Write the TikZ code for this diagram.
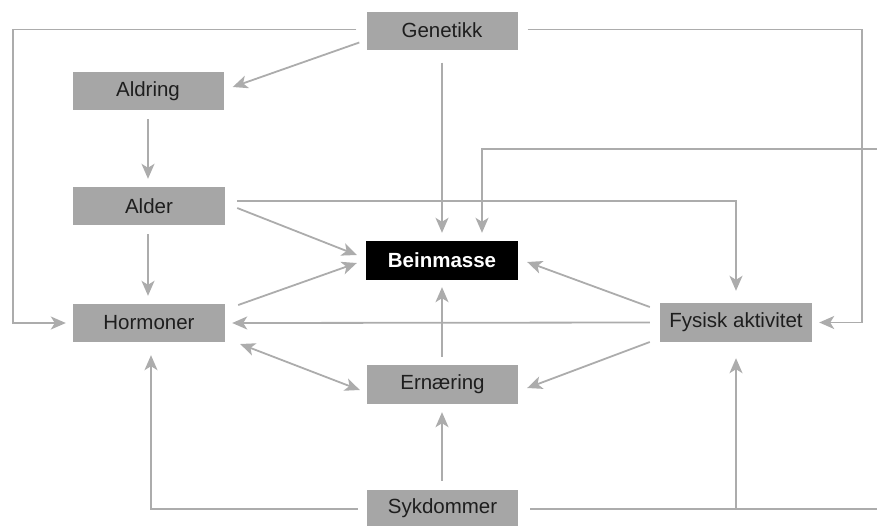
\documentclass[tikz,border=0pt]{standalone}
\usepackage{fontspec}
\setmainfont{Liberation Sans}
\usetikzlibrary{arrows.meta,calc}
\definecolor{boxgray}{RGB}{166,166,166}
\definecolor{linegray}{RGB}{172,172,172}
\definecolor{txt}{RGB}{30,30,30}
\begin{document}
\begin{tikzpicture}[x=1pt,y=-1pt,
  box/.style={fill=boxgray,text=txt,minimum width=151pt,minimum height=38pt,inner sep=0pt,
    font=\fontsize{20.5}{24}\selectfont},
  blackbox/.style={fill=black,text=white,minimum width=152pt,minimum height=39pt,inner sep=0pt,
    font=\fontsize{20.5}{24}\selectfont\bfseries},
  conn/.style={draw=linegray,line width=1.8pt,-{Stealth[length=15pt,width=13pt,inset=4pt]}},
  plain/.style={draw=linegray,line width=1.8pt}]
\useasboundingbox (0,0) rectangle (877,525);
\node[box] (gen) at (442,30.5) {Genetikk};
\node[box] (ald) at (148,91) {Aldring};
\node[box,minimum width=152pt] (alder) at (149,206) {Alder};
\node[box,minimum width=152pt] (horm) at (149,323) {Hormoner};
\node[blackbox] (bein) at (442,260.5) {Beinmasse};
\node[box,minimum height=39pt] (ern) at (442.5,384.5) {Ernæring};
\node[box,minimum height=37pt] (syk) at (442.5,508.5) {Sykdommer};
\node[box,minimum width=152pt,minimum height=39pt] (fys) at (736,322.5) {Fysisk aktivitet};
\coordinate (tr) at (877,149);
\coordinate (br) at (877,509);
\coordinate (j) at (fys.south |- br);
% Genetikk
\draw[conn] ($(gen.west)+(-7,12)$) -- ($(ald.east)+(9,-4)$);
\draw[conn] ($(gen.west)+(-10,-1)$) -| ($(horm.west)+(-60,0)$) -- ($(horm.west)+(-7,0)$);
\draw[conn] ($(gen.east)+(10,-1)$) -| ($(fys.east)+(50,0)$) -- ($(fys.east)+(7,0)$);
\draw[conn] ($(gen.south)+(0,13)$) -- ($(bein.north)+(0,-8)$);
\draw[conn] (tr) -| ($(bein.north)+(40,-8)$);
% Aldring / Alder
\draw[conn] ($(ald.south)+(0,9)$) -- ($(alder.north)+(-1,-8)$);
\draw[conn] ($(alder.south)+(-1,9)$) -- ($(horm.north)+(-1,-8)$);
\draw[conn] ($(alder.east)+(12,2)$) -- ($(bein.west)+(-9,-5.5)$);
\draw[conn] ($(alder.east)+(12,-5)$) -| ($(fys.north)+(0,-12)$);
% Hormoner
\draw[conn] ($(horm.east)+(13,-18)$) -- ($(bein.west)+(-9,2.5)$);
\draw[conn,{Stealth[length=15pt,width=13pt,inset=4pt]}-{Stealth[length=15pt,width=13pt,inset=4pt]}] ($(horm.east)+(15,21)$) -- ($(ern.west)+(-7,5.5)$);
% Fysisk aktivitet
\draw[conn] ($(fys.west)+(-10,0)$) -- ($(horm.east)+(7,0)$);
\draw[conn] ($(fys.west)+(-10,-15.5)$) -- ($(bein.east)+(9,1.5)$);
\draw[conn] ($(fys.west)+(-10,19.5)$) -- ($(ern.east)+(9,3.5)$);
% Ernaering
\draw[conn] ($(ern.north)+(-0.5,-8)$) -- ($(bein.south)+(0,7)$);
% Sykdommer
\draw[conn] ($(syk.north)+(-0.5,-9)$) -- ($(ern.south)+(-0.5,8)$);
\draw[conn] ($(syk.west)+(-9,0.5)$) -| ($(horm.south)+(2,13)$);
\draw[plain] ($(syk.east)+(12,0.5)$) -- (br);
\draw[conn] (j) -- ($(fys.south)+(0,16)$);
\end{tikzpicture}
\end{document}
